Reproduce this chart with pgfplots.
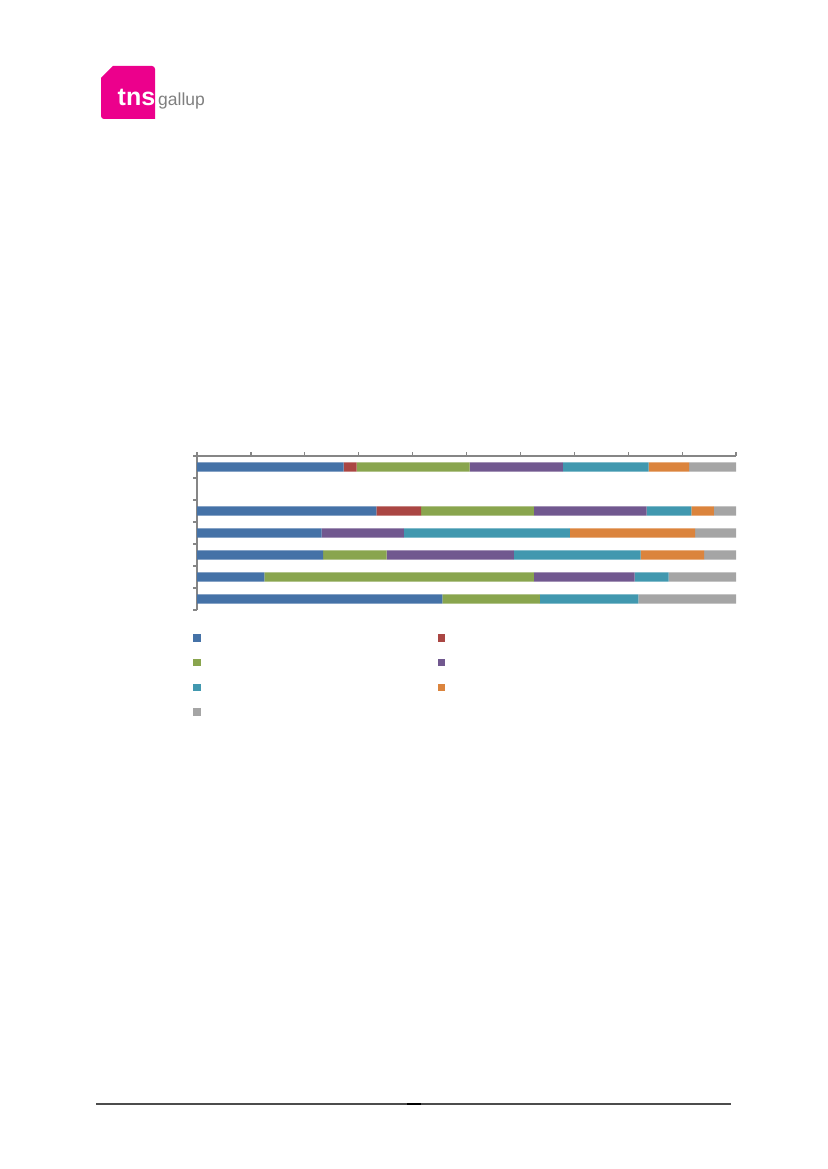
\documentclass[border=0pt]{standalone}
\usepackage{pgfplots}
\pgfplotsset{compat=1.18}
\usepackage{fontspec}
\setmainfont{Liberation Sans}
\definecolor{sblue}{HTML}{4572A7}
\definecolor{sred}{HTML}{AA4643}
\definecolor{sgreen}{HTML}{89A54E}
\definecolor{spurple}{HTML}{71588F}
\definecolor{steal}{HTML}{4198AF}
\definecolor{sorange}{HTML}{DB843D}
\definecolor{sgray}{HTML}{A5A5A5}
\definecolor{axisgray}{HTML}{868686}
\definecolor{tnspink}{HTML}{EC008C}
\definecolor{logogray}{HTML}{7F7F7F}

\begin{document}
\begin{tikzpicture}
\useasboundingbox (0,0) rectangle (827pt,-1169pt);

% logo
\fill[tnspink] (101pt,-78pt) -- (113pt,-66pt) -- (152pt,-66pt)
  arc[start angle=90,end angle=0,radius=3pt] -- (155pt,-119pt) -- (104pt,-119pt)
  arc[start angle=270,end angle=180,radius=3pt] -- cycle;
\node[anchor=base west,inner sep=0pt,text=white,font=\fontsize{25}{25}\selectfont\bfseries]
  at (117.5pt,-105.5pt) {tns};
\node[anchor=base west,inner sep=0pt,text=logogray,font=\fontsize{17.5}{17.5}\selectfont]
  at (158pt,-106pt) {gallup};

% footer rule
\draw[color=black!70,line width=1.3pt] (96pt,-1104pt) -- (731pt,-1104pt);
\draw[color=black,line width=2pt] (407pt,-1104pt) -- (421pt,-1104pt);

\begin{axis}[
at={(197pt,-610pt)},
anchor=south west,
scale only axis,
width=539pt,
height=154pt,
xbar stacked,
bar width=9.3pt,
xmin=0, xmax=100,
ymin=-0.5, ymax=6.5,
xtick={0,10,...,100},
ytick={-0.5,0.5,...,6.5},
xticklabels={}, yticklabels={},
axis x line*=top,
axis y line*=left,
axis line style={draw=axisgray,line width=1.2pt,-},
tick style={draw=axisgray,line width=1.2pt},
tick align=outside,
major tick length=4pt,
legend columns=2,
legend image code/.code={\fill[#1,draw=none] (0pt,-3.7pt) rectangle (7.6pt,3.7pt);},
legend style={at={(-0.0074,-0.156)},anchor=north west,draw=none,fill=none,
  inner sep=0pt,row sep=17.3pt,column sep=0pt,
  nodes={inner sep=0pt,text width=237pt,text depth=0pt}},
]
\addplot[fill=sblue,draw=none] coordinates {(45.5,0) (12.5,1) (23.4,2) (23.1,3) (33.3,4) (27.2,6)};
\addplot[fill=sred,draw=none] coordinates {(0,0) (0,1) (0,2) (0,3) (8.3,4) (2.4,6)};
\addplot[fill=sgreen,draw=none] coordinates {(18.1,0) (50.0,1) (11.8,2) (0,3) (20.9,4) (21.0,6)};
\addplot[fill=spurple,draw=none] coordinates {(0,0) (18.7,1) (23.6,2) (15.3,3) (20.9,4) (17.3,6)};
\addplot[fill=steal,draw=none] coordinates {(18.3,0) (6.3,1) (23.5,2) (30.8,3) (8.3,4) (15.9,6)};
\addplot[fill=sorange,draw=none] coordinates {(0,0) (0,1) (11.8,2) (23.2,3) (4.2,4) (7.5,6)};
\addplot[fill=sgray,draw=none] coordinates {(18.1,0) (12.5,1) (5.9,2) (7.6,3) (4.1,4) (8.7,6)};
\addlegendentry{}
\addlegendentry{}
\addlegendentry{}
\addlegendentry{}
\addlegendentry{}
\addlegendentry{}
\addlegendentry{}
\end{axis}
\end{tikzpicture}
\end{document}
